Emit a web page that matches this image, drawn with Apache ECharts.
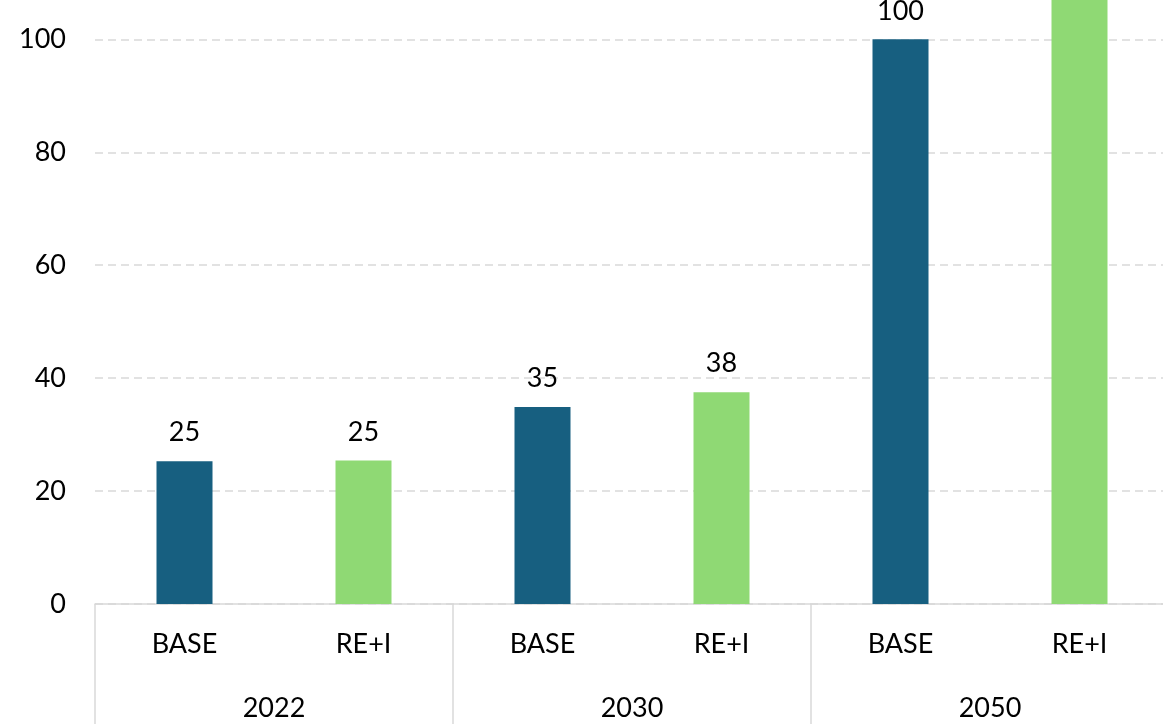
<!DOCTYPE html>
<html>
<head>
<meta charset="utf-8">
<script src="https://cdn.jsdelivr.net/npm/echarts@6/dist/echarts.min.js"></script>
<style>
  html, body { margin: 0; padding: 0; width: 1163px; height: 724px; overflow: hidden; background: #fff; }
  #chart { position: absolute; left: 0; top: -200px; width: 1175px; height: 924px; }
</style>
</head>
<body>
<div id="chart"></div>
<script>
const scenarios = ['BASE', 'RE+I', 'BASE', 'RE+I', 'BASE', 'RE+I'];
const years = ['2022', '2030', '2050'];
const baseValues = [25.3, null, 34.9, null, 100, null];
const reiValues = [null, 25.4, null, 37.5, null, 125];
const yTicks = [0, 20, 40, 60, 80, 100, 120, 140];

window.addEventListener('load', function() {
    const chartDom = document.getElementById('chart');
    const myChart = echarts.init(chartDom);
    const font = 'Lato, "Open Sans", sans-serif';

    const labelStyle = {
        show: true,
        position: 'top',
        distance: 15,
        color: '#000',
        fontSize: 27,
        fontFamily: font,
        formatter: p => p.value == null ? '' : Math.round(p.value)
    };

    const option = {
        animation: false,
        grid: { left: 95, right: 6, top: 13, bottom: 120, containLabel: false },
        xAxis: [
            {
                type: 'category',
                data: scenarios,
                axisLine: { show: true, lineStyle: { color: '#d9d9d9', width: 1.5 } },
                axisTick: { show: false },
                axisLabel: { color: '#000', fontSize: 27, fontFamily: font, margin: 27 }
            },
            {
                type: 'category',
                data: years,
                position: 'bottom',
                axisLine: { show: false },
                axisTick: { show: true, length: 140, lineStyle: { color: '#d9d9d9', width: 1.5 } },
                axisLabel: { color: '#000', fontSize: 27, fontFamily: font, margin: 91 }
            }
        ],
        yAxis: {
            type: 'value',
            min: yTicks[0],
            max: yTicks[yTicks.length - 1],
            interval: 20,
            axisLine: { show: false },
            axisTick: { show: false },
            axisLabel: { color: '#000', fontSize: 27, fontFamily: font, margin: 29 },
            splitLine: { lineStyle: { color: '#d9d9d9', type: [8, 5], width: 1.5 } }
        },
        series: [
            {
                name: 'BASE',
                type: 'bar',
                stack: 'all',
                data: baseValues,
                barWidth: 56,
                itemStyle: { color: '#175f80' },
                label: labelStyle
            },
            {
                name: 'RE+I',
                type: 'bar',
                stack: 'all',
                data: reiValues,
                barWidth: 56,
                itemStyle: { color: '#8fd974' },
                label: labelStyle
            }
        ]
    };

    myChart.setOption(option);
});
</script>
</body>
</html>
